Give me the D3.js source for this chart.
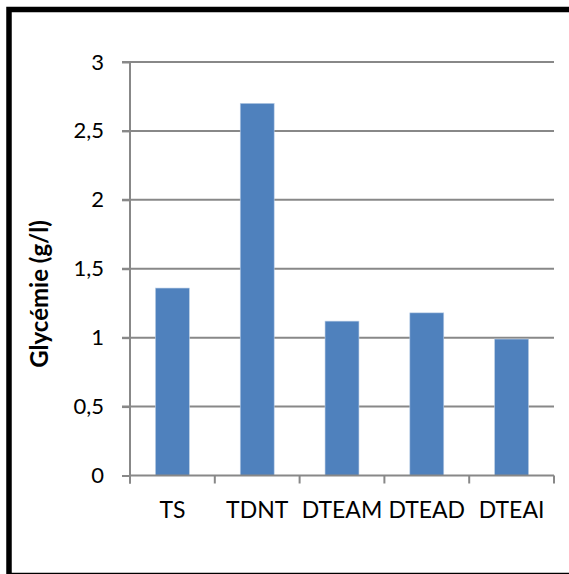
<!DOCTYPE html>
<html>
<head>
<meta charset="utf-8">
<script src="https://cdn.jsdelivr.net/npm/d3@7"></script>
<style>
  html, body { margin: 0; padding: 0; background: #fff; }
  svg { display: block; }
</style>
</head>
<body>
<div id="chart"></div>
<script>
// Chart values
const categories = ['TS', 'TDNT', 'DTEAM', 'DTEAD', 'DTEAI'];
const glycemia = [1.36, 2.70, 1.12, 1.18, 0.99];
const yTicks = [0, 0.5, 1, 1.5, 2, 2.5, 3];
const yTickLabels = ['0', '0,5', '1', '1,5', '2', '2,5', '3'];
const yTitle = 'Glycémie (g/l)';

const width = 569;
const height = 574;
const font = 'Lato, "Open Sans", sans-serif';

const svg = d3.select('#chart')
  .append('svg')
  .attr('width', width)
  .attr('height', height);

// Outer frame
svg.append('rect')
  .attr('x', 9)
  .attr('y', 9.5)
  .attr('width', 575)
  .attr('height', 566)
  .attr('fill', '#fff')
  .attr('stroke', '#000')
  .attr('stroke-width', 5.5);

// Scales
const plot = { left: 130, right: 554, top: 62, bottom: 475.5 };

const xScale = d3.scaleBand()
  .domain(categories)
  .range([plot.left, plot.right])
  .paddingInner(0.6)
  .paddingOuter(0.3);

const yScale = d3.scaleLinear()
  .domain([0, 3])
  .range([plot.bottom, plot.top]);

// Gridlines
svg.append('g')
  .selectAll('line')
  .data(yTicks.filter(d => d > 0))
  .enter()
  .append('line')
  .attr('x1', plot.left - 8)
  .attr('x2', plot.right)
  .attr('y1', d => yScale(d))
  .attr('y2', d => yScale(d))
  .attr('stroke', '#888')
  .attr('stroke-width', 2);

// Bars
svg.append('g')
  .selectAll('rect')
  .data(categories)
  .enter()
  .append('rect')
  .attr('x', d => xScale(d))
  .attr('y', (d, i) => yScale(glycemia[i]))
  .attr('width', xScale.bandwidth())
  .attr('height', (d, i) => yScale(0) - yScale(glycemia[i]))
  .attr('fill', '#4f81bd')
  .attr('stroke', '#b9cde5')
  .attr('stroke-width', 0.6);

// Y axis
const yAxis = svg.append('g')
  .attr('transform', `translate(${plot.left},0)`)
  .call(d3.axisLeft(yScale)
    .tickValues(yTicks)
    .tickSize(8)
    .tickPadding(18)
    .tickFormat((d, i) => yTickLabels[i]));

yAxis.select('.domain')
  .attr('d', `M0,${plot.top}V${plot.bottom + 8}`)
  .attr('stroke', '#888')
  .attr('stroke-width', 2);
yAxis.selectAll('.tick line')
  .attr('stroke', '#888')
  .attr('stroke-width', 2);
yAxis.selectAll('.tick text')
  .attr('fill', '#000')
  .style('font-family', font)
  .style('font-size', '22px');

// X axis: ticks sit between categories
const xAxis = svg.append('g')
  .attr('transform', `translate(0,${plot.bottom})`);

xAxis.append('line')
  .attr('x1', plot.left)
  .attr('x2', plot.right)
  .attr('stroke', '#888')
  .attr('stroke-width', 2);

const step = xScale.step();
xAxis.selectAll('.xtick')
  .data(d3.range(categories.length + 1))
  .enter()
  .append('line')
  .attr('class', 'xtick')
  .attr('x1', i => plot.left + i * step)
  .attr('x2', i => plot.left + i * step)
  .attr('y1', 0)
  .attr('y2', 8)
  .attr('stroke', '#888')
  .attr('stroke-width', 2);

xAxis.selectAll('.xlabel')
  .data(categories)
  .enter()
  .append('text')
  .attr('class', 'xlabel')
  .attr('x', d => xScale(d) + xScale.bandwidth() / 2)
  .attr('y', 42)
  .attr('text-anchor', 'middle')
  .style('font-family', font)
  .style('font-size', '23px')
  .text(d => d);

// Y axis title
svg.append('text')
  .attr('transform', 'translate(48,294) rotate(-90)')
  .attr('text-anchor', 'middle')
  .style('font-family', font)
  .style('font-size', '24px')
  .style('font-weight', 'bold')
  .text(yTitle);
</script>
</body>
</html>
